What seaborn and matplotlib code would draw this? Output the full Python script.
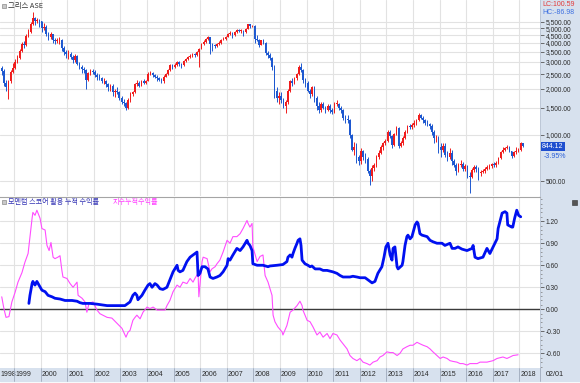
import numpy as np
import pandas as pd
import matplotlib
matplotlib.use("Agg")
import matplotlib.pyplot as plt
import matplotlib.ticker as mticker
from matplotlib.patches import Rectangle
from matplotlib.lines import Line2D
from matplotlib.transforms import blended_transform_factory
import seaborn as sns

sns.set_style("white")
plt.rcParams["font.family"] = ["Noto Sans CJK KR", "DejaVu Sans"]

# Greek ASE index, monthly candles Jul 1998 .. Feb 2018
ase_first_open = 2750
ase_close = [
    2620, 2200, 2050, 2250, 2580, 2740,                                  # 1998 H2
    3000, 3200, 3550, 3950, 3850, 4450, 4700, 5300, 5800, 5600, 5650, 5535,  # 1999
    5000, 5100, 4600, 4350, 4550, 4150, 4100, 4150, 4200, 3700, 3500, 3390,  # 2000
    3400, 3250, 3100, 3300, 2900, 2800, 2700, 2650, 2300, 2550, 2600, 2590,  # 2001
    2450, 2400, 2350, 2250, 2250, 2150, 2050, 2100, 1900, 1950, 1900, 1750,  # 2002
    1650, 1620, 1500, 1700, 1850, 1900, 2150, 2200, 2100, 2250, 2200, 2260,  # 2003
    2500, 2550, 2450, 2400, 2350, 2300, 2250, 2400, 2500, 2650, 2850, 2790,  # 2004
    2850, 3000, 2900, 2850, 3050, 3150, 3250, 3300, 3400, 3350, 3500, 3660,  # 2005
    3950, 4050, 4250, 4350, 3950, 3850, 3800, 3950, 4000, 4200, 4250, 4390,  # 2006
    4600, 4650, 4500, 4700, 4850, 4800, 4800, 4700, 4950, 5300, 5150, 5180,  # 2007
    4250, 4200, 3900, 4150, 4000, 3450, 3350, 3200, 2800, 1950, 1750, 1790,  # 2008
    1700, 1550, 1650, 1950, 2250, 2200, 2350, 2500, 2800, 2650, 2300, 2200,  # 2009
    1950, 1850, 2050, 1750, 1550, 1450, 1600, 1500, 1450, 1550, 1450, 1410,  # 2010
    1600, 1600, 1500, 1450, 1300, 1280, 1250, 1000, 800, 830, 720, 680,      # 2011
    780, 720, 700, 580, 540, 610, 640, 720, 760, 830, 880, 910,              # 2012
    1050, 980, 860, 1010, 1110, 850, 880, 960, 1050, 1140, 1120, 1160,       # 2013
    1200, 1250, 1350, 1300, 1250, 1200, 1180, 1150, 1050, 950, 950, 830,     # 2014
    800, 850, 740, 720, 760, 680, 640, 580, 640, 650, 600, 630,              # 2015
    540, 530, 590, 620, 600, 560, 570, 580, 600, 620, 630, 644,              # 2016
    640, 660, 710, 770, 800, 820, 840, 780, 730, 770, 790, 800,              # 2017
    880, 844.12,                                                             # 2018
]
ase_high = [
    2830, 2680, 2300, 2300, 2650, 2950,
    3150, 3350, 3650, 4050, 4100, 4550, 4900, 5450, 6350, 5900, 5800, 5750,
    5600, 5400, 5200, 4700, 4700, 4600, 4300, 4300, 4350, 4250, 3800, 3600,
    3600, 3500, 3350, 3400, 3350, 3000, 2850, 2800, 2700, 2600, 2700, 2700,
    2650, 2550, 2500, 2400, 2350, 2300, 2200, 2150, 2150, 2000, 2050, 1950,
    1800, 1720, 1650, 1750, 1900, 1950, 2200, 2280, 2250, 2300, 2320, 2300,
    2600, 2620, 2600, 2500, 2450, 2400, 2350, 2450, 2550, 2700, 2900, 2900,
    2950, 3050, 3050, 2950, 3100, 3200, 3300, 3400, 3450, 3450, 3550, 3700,
    4000, 4150, 4300, 4450, 4400, 4000, 3950, 4000, 4100, 4250, 4350, 4450,
    4650, 4750, 4700, 4750, 4900, 4950, 4950, 4850, 5000, 5350, 5350, 5250,
    5200, 4500, 4250, 4200, 4250, 4050, 3550, 3450, 3250, 2850, 2050, 1900,
    1900, 1750, 1700, 2000, 2300, 2350, 2400, 2550, 2850, 2950, 2700, 2350,
    2250, 2000, 2100, 2100, 1800, 1650, 1650, 1650, 1550, 1600, 1600, 1500,
    1650, 1700, 1620, 1550, 1480, 1350, 1350, 1270, 1020, 900, 880, 740,
    820, 800, 760, 720, 600, 640, 660, 740, 800, 860, 900, 940,
    1080, 1080, 1000, 1030, 1150, 1120, 910, 990, 1070, 1160, 1180, 1190,
    1250, 1280, 1390, 1370, 1330, 1280, 1250, 1200, 1180, 1080, 1000, 980,
    880, 880, 880, 780, 820, 800, 700, 660, 660, 690, 670, 650,
    640, 570, 610, 640, 640, 620, 590, 600, 620, 640, 650, 660,
    670, 680, 720, 790, 830, 840, 860, 850, 790, 790, 830, 820,
    900, 890,
]
ase_low = [
    2450, 2100, 1950, 1720, 2200, 2550,
    2700, 2950, 3150, 3500, 3700, 3800, 4350, 4650, 5250, 5250, 5400, 5100,
    4700, 4850, 4450, 4200, 4250, 4000, 3950, 4000, 3950, 3550, 3350, 3200,
    3150, 3150, 2950, 3000, 2850, 2700, 2550, 2550, 2000, 2250, 2450, 2500,
    2400, 2300, 2300, 2200, 2150, 2050, 1950, 1950, 1800, 1780, 1850, 1700,
    1600, 1550, 1450, 1480, 1650, 1800, 1880, 2100, 2050, 2080, 2150, 2150,
    2250, 2450, 2380, 2350, 2250, 2250, 2200, 2200, 2380, 2480, 2620, 2700,
    2750, 2820, 2820, 2750, 2820, 3000, 3100, 3200, 3250, 3250, 3300, 2800,
    3650, 3900, 4000, 4200, 3400, 3550, 3700, 3750, 3900, 3950, 4150, 4200,
    4350, 4500, 4300, 4450, 4650, 4700, 4650, 4450, 4650, 4900, 5000, 5050,
    4000, 4100, 3750, 3850, 3950, 3350, 3200, 3100, 2650, 1750, 1650, 1600,
    1620, 1500, 1400, 1600, 1900, 2100, 2150, 2300, 2450, 2600, 2200, 2050,
    1900, 1750, 1800, 1650, 1450, 1400, 1420, 1480, 1400, 1430, 1400, 1380,
    1400, 1550, 1450, 1400, 1250, 1200, 1200, 950, 780, 740, 660, 640,
    650, 690, 660, 560, 470, 500, 580, 620, 700, 750, 800, 860,
    900, 950, 820, 850, 1000, 820, 830, 860, 940, 1030, 1090, 1100,
    1130, 1170, 1230, 1270, 1200, 1170, 1150, 1100, 1000, 880, 900, 760,
    720, 770, 720, 680, 700, 640, 620, 550, 570, 620, 580, 580,
    520, 420, 520, 570, 570, 510, 540, 560, 560, 590, 600, 610,
    620, 620, 650, 700, 760, 790, 810, 770, 710, 720, 750, 770,
    790, 830,
]

# index cumulative return (pink) and momentum-score cumulative return (blue)
idx_years = [
    1998.54, 1998.62, 1998.70, 1998.81, 1998.92, 1999.04, 1999.15, 1999.30, 1999.41, 1999.53,
    1999.68, 1999.71, 1999.79, 1999.86, 1999.98, 2000.05, 2000.17, 2000.24, 2000.32, 2000.39,
    2000.47, 2000.54, 2000.65, 2000.73, 2000.80, 2000.84, 2000.99, 2001.11, 2001.22, 2001.37,
    2001.41, 2001.56, 2001.67, 2001.74, 2001.82, 2001.97, 2002.12, 2002.23, 2002.50, 2002.68,
    2002.87, 2003.06, 2003.21, 2003.29, 2003.36, 2003.47, 2003.55, 2003.62, 2003.74, 2003.85,
    2004.00, 2004.11, 2004.23, 2004.38, 2004.56, 2004.68, 2004.75, 2004.86, 2004.98, 2005.13,
    2005.24, 2005.35, 2005.50, 2005.62, 2005.73, 2005.80, 2005.92, 2005.95, 2006.07, 2006.11,
    2006.26, 2006.37, 2006.44, 2006.56, 2006.63, 2006.74, 2006.86, 2007.01, 2007.12, 2007.23,
    2007.38, 2007.50, 2007.61, 2007.76, 2007.80, 2007.87, 2007.95, 2007.98, 2008.14, 2008.25,
    2008.36, 2008.44, 2008.55, 2008.70, 2008.74, 2008.81, 2008.92, 2009.08, 2009.11, 2009.26,
    2009.38, 2009.49, 2009.64, 2009.75, 2009.83, 2009.86, 2010.02, 2010.13, 2010.24, 2010.39,
    2010.50, 2010.62, 2010.77, 2010.88, 2010.99, 2011.14, 2011.26, 2011.37, 2011.52, 2011.63,
    2011.74, 2011.89, 2012.01, 2012.12, 2012.27, 2012.38, 2012.50, 2012.65, 2012.76, 2012.87,
    2013.02, 2013.14, 2013.25, 2013.40, 2013.51, 2013.62, 2013.77, 2013.89, 2014.00, 2014.15,
    2014.26, 2014.38, 2014.53, 2014.64, 2014.75, 2014.90, 2015.02, 2015.13, 2015.28, 2015.39,
    2015.50, 2015.65, 2015.77, 2015.88, 2016.03, 2016.14, 2016.26, 2016.41, 2016.52, 2016.63,
    2016.78, 2016.89, 2017.01, 2017.16, 2017.27, 2017.38, 2017.53, 2017.65, 2017.76, 2017.95,
]
idx_ret = [
    0.17, 0.01, -0.11, -0.10, 0.10, 0.23, 0.37, 0.50, 0.64, 0.76,
    1.24, 1.32, 1.28, 1.35, 1.24, 1.10, 1.08, 0.87, 0.80, 0.91,
    0.71, 0.69, 0.71, 0.73, 0.53, 0.44, 0.42, 0.35, 0.30, 0.37,
    0.19, 0.15, 0.10, -0.04, 0.08, 0.10, -0.01, -0.06, -0.11, -0.12,
    -0.19, -0.26, -0.38, -0.31, -0.29, -0.15, -0.11, -0.08, -0.13, -0.04,
    0.03, 0.01, 0.03, -0.01, -0.01, -0.01, 0.05, 0.12, 0.24, 0.33,
    0.30, 0.37, 0.35, 0.42, 0.37, 0.42, 0.49, 0.17, 0.65, 0.71,
    0.69, 0.51, 0.55, 0.58, 0.62, 0.67, 0.78, 0.94, 0.90, 0.99,
    0.99, 1.03, 1.10, 1.21, 1.17, 1.12, 1.17, 0.85, 0.65, 0.72,
    0.74, 0.46, 0.37, 0.19, -0.08, -0.17, -0.24, -0.31, -0.35, -0.22,
    -0.04, -0.01, 0.05, 0.11, 0.05, -0.01, -0.15, -0.17, -0.24, -0.35,
    -0.31, -0.38, -0.33, -0.40, -0.33, -0.35, -0.42, -0.47, -0.54, -0.63,
    -0.67, -0.70, -0.67, -0.72, -0.74, -0.76, -0.72, -0.70, -0.65, -0.63,
    -0.58, -0.59, -0.59, -0.63, -0.60, -0.54, -0.51, -0.49, -0.49, -0.45,
    -0.47, -0.49, -0.51, -0.54, -0.58, -0.63, -0.67, -0.65, -0.67, -0.70,
    -0.71, -0.72, -0.74, -0.74, -0.76, -0.74, -0.74, -0.74, -0.72, -0.72,
    -0.72, -0.71, -0.70, -0.67, -0.66, -0.65, -0.67, -0.65, -0.63, -0.62,
]
mom_years = [
    1999.56, 1999.60, 1999.68, 1999.71, 1999.79, 1999.86, 1999.94, 2000.05, 2000.17, 2000.28,
    2000.43, 2000.54, 2000.73, 2000.92, 2001.18, 2001.37, 2001.48, 2001.59, 2001.86, 2002.12,
    2002.50, 2002.87, 2003.17, 2003.36, 2003.47, 2003.55, 2003.62, 2003.66, 2003.81, 2003.92,
    2004.04, 2004.11, 2004.19, 2004.30, 2004.38, 2004.49, 2004.60, 2004.75, 2004.86, 2004.98,
    2005.13, 2005.17, 2005.24, 2005.35, 2005.50, 2005.62, 2005.73, 2005.80, 2005.88, 2005.92,
    2005.99, 2006.07, 2006.18, 2006.29, 2006.37, 2006.48, 2006.63, 2006.74, 2006.86, 2007.01,
    2007.05, 2007.12, 2007.23, 2007.38, 2007.50, 2007.61, 2007.76, 2007.80, 2007.87, 2007.95,
    2007.98, 2008.14, 2008.36, 2008.55, 2008.62, 2008.89, 2009.11, 2009.26, 2009.30, 2009.38,
    2009.45, 2009.49, 2009.56, 2009.64, 2009.68, 2009.75, 2009.79, 2009.83, 2009.94, 2010.05,
    2010.13, 2010.20, 2010.32, 2010.50, 2010.62, 2010.77, 2010.88, 2010.99, 2011.14, 2011.26,
    2011.37, 2011.63, 2011.74, 2011.89, 2012.01, 2012.20, 2012.31, 2012.46, 2012.57, 2012.68,
    2012.83, 2012.91, 2012.98, 2013.06, 2013.14, 2013.21, 2013.25, 2013.32, 2013.40, 2013.44,
    2013.59, 2013.62, 2013.70, 2013.77, 2013.81, 2013.89, 2013.96, 2014.08, 2014.15, 2014.19,
    2014.26, 2014.34, 2014.53, 2014.64, 2014.75, 2014.90, 2015.09, 2015.20, 2015.39, 2015.47,
    2015.58, 2015.69, 2015.84, 2016.03, 2016.22, 2016.26, 2016.33, 2016.44, 2016.63, 2016.78,
    2016.89, 2017.01, 2017.16, 2017.20, 2017.35, 2017.46, 2017.53, 2017.56, 2017.71, 2017.75,
    2017.82, 2017.90, 2017.97, 2018.05,
]
mom_ret = [
    0.08, 0.19, 0.35, 0.38, 0.33, 0.38, 0.33, 0.26, 0.24, 0.19,
    0.17, 0.15, 0.14, 0.12, 0.12, 0.11, 0.09, 0.08, 0.08, 0.07,
    0.05, 0.05, 0.05, 0.10, 0.19, 0.22, 0.19, 0.13, 0.19, 0.26,
    0.33, 0.35, 0.30, 0.35, 0.33, 0.28, 0.27, 0.30, 0.40, 0.51,
    0.60, 0.53, 0.51, 0.53, 0.65, 0.71, 0.74, 0.76, 0.78, 0.46,
    0.49, 0.58, 0.58, 0.55, 0.44, 0.42, 0.44, 0.46, 0.51, 0.60,
    0.69, 0.67, 0.74, 0.83, 0.80, 0.85, 0.94, 0.90, 0.87, 0.80,
    0.62, 0.60, 0.60, 0.58, 0.59, 0.60, 0.61, 0.65, 0.71, 0.74,
    0.71, 0.76, 0.83, 0.90, 0.94, 0.96, 0.87, 0.67, 0.62, 0.60,
    0.58, 0.59, 0.55, 0.55, 0.53, 0.53, 0.52, 0.51, 0.49, 0.46,
    0.44, 0.44, 0.45, 0.44, 0.43, 0.43, 0.40, 0.36, 0.38, 0.49,
    0.58, 0.71, 0.85, 0.90, 0.74, 0.67, 0.83, 0.85, 0.58, 0.55,
    0.60, 0.65, 0.87, 0.99, 1.01, 0.96, 0.99, 1.15, 1.19, 1.17,
    1.03, 1.01, 0.99, 0.94, 0.92, 0.90, 0.90, 0.87, 0.90, 0.83,
    0.83, 0.85, 0.82, 0.80, 0.83, 0.87, 0.71, 0.69, 0.71, 0.83,
    0.76, 0.85, 0.96, 1.10, 1.31, 1.33, 1.31, 1.15, 1.12, 1.12,
    1.24, 1.35, 1.28, 1.26,
]

year_labels = list(range(1998, 2019))
price_ticks = [500, 1000, 1500, 2000, 2500, 3000, 3500, 4000, 4500, 5000, 5500]
ret_ticks = [-0.6, -0.3, 0.0, 0.3, 0.6, 0.9, 1.2]
title_text = "그리스 ASE"
mom_label = "모멘텀 스코어 활용 누적 수익률"
idx_label = "지수누적수익률"

months = pd.date_range("1998-07-01", periods=len(ase_close), freq="MS")
candles = pd.DataFrame({
    "t": months.year + (months.month - 0.5) / 12,
    "close": ase_close,
    "high": ase_high,
    "low": ase_low,
})
candles["open"] = [ase_first_open] + ase_close[:-1]
candles["up"] = candles["close"] >= candles["open"]
idx_df = pd.DataFrame({"t": idx_years, "v": idx_ret})
mom_df = pd.DataFrame({"t": mom_years, "v": mom_ret})

RED, BLUE = "#f01c1c", "#1d58d0"
STRIP = "#d7e1ee"
GRID = "#e2e2e2"
NARROW = ["Liberation Sans Narrow", "Liberation Sans", "DejaVu Sans"]

W, H = 580, 383
fig = plt.figure(figsize=(W / 100, H / 100), dpi=100)
fig.patch.set_facecolor("white")


def box(x0, y0, x1, y1):
    return [x0 / W, 1 - y1 / H, (x1 - x0) / W, (y1 - y0) / H]


# background strips (below the axes so tick labels stay visible)
fig.patches.append(Rectangle((540 / W, 1 - 368 / H), 40 / W, 368 / H,
                             transform=fig.transFigure, color=STRIP, zorder=-2))
fig.patches.append(Rectangle((0, 1 - 381 / H), 1, 13 / H,
                             transform=fig.transFigure, color=STRIP, zorder=-2))

ax1 = fig.add_axes(box(0, 0, 540, 196))
ax2 = fig.add_axes(box(0, 197, 540, 368), sharex=ax1)
xlim = (1998.474, 2018.774)

# --- price panel (log scale candles)
colors = np.where(candles["up"], RED, BLUE)
body_lo = np.minimum(candles["open"], candles["close"])
body_h = np.maximum(np.abs(candles["close"] - candles["open"]), candles["close"] * 0.006)
ax1.vlines(candles["t"], candles["low"], candles["high"], colors=colors, lw=0.7, zorder=3)
ax1.bar(candles["t"], body_h, bottom=body_lo, width=0.06, color=colors, linewidth=0, zorder=3)
ax1.set_yscale("log")
ax1.set_ylim(399, 7630)
ax1.yaxis.set_major_locator(mticker.FixedLocator(price_ticks))
ax1.yaxis.set_minor_locator(mticker.NullLocator())
ax1.yaxis.set_major_formatter(mticker.FuncFormatter(lambda v, p: f"{v:,.2f}"))

# --- return panel
sns.lineplot(data=idx_df, x="t", y="v", ax=ax2, color="#ff4cff", lw=0.8,
             estimator=None, sort=False, zorder=3)
sns.lineplot(data=mom_df, x="t", y="v", ax=ax2, color="#0010f0", lw=2.0,
             estimator=None, sort=False, zorder=4)
ax2.axhline(0, color="#3a3a3a", lw=1.0, zorder=2)
ax2.set_ylim(-0.80, 1.53)
ax2.set_yticks(ret_ticks)
ax2.yaxis.set_minor_locator(mticker.MultipleLocator(0.06))
ax2.yaxis.set_major_formatter(mticker.FuncFormatter(lambda v, p: f"{v:.2f}"))

for ax in (ax1, ax2):
    # ticks first: set_xticks would otherwise widen the view to include 1998
    ax.xaxis.set_major_locator(mticker.FixedLocator(year_labels))
    ax.set_xlim(*xlim)
    ax.set_xlabel("")
    ax.set_ylabel("")
    ax.set_facecolor("white")
    ax.grid(True, color=GRID, lw=0.8)
    ax.set_axisbelow(True)
    ax.yaxis.tick_right()
    ax.tick_params(axis="x", length=0, labelbottom=False)
    ax.tick_params(axis="y", which="major", direction="out", length=3, width=0.6,
                   color="#555555", labelsize=4.8, labelcolor="#2a2a2a", pad=1.2)
    ax.tick_params(axis="y", which="minor", direction="out", length=1.2, width=0.5,
                   color="#777777")
    for s in ("left", "bottom", "top"):
        ax.spines[s].set_visible(False)
    ax.spines["right"].set_color("#b9c3d2")
    ax.spines["right"].set_linewidth(0.6)
    for lbl in ax.get_yticklabels():
        lbl.set_family(NARROW)
ax2.spines["top"].set_visible(True)
ax2.spines["top"].set_color("#a5a5a5")
ax2.spines["top"].set_linewidth(0.8)


# --- titles / legend text
def px_text(x, y, s, **kw):
    fig.text(x / W, 1 - y / H, s, va="center", **kw)


fig.patches.append(Rectangle((2 / W, 1 - 8 / H), 4 / W, 4 / H, transform=fig.transFigure,
                             facecolor="#c8c8c8", edgecolor="#777777", lw=0.4, zorder=5))
px_text(8, 6, title_text, fontsize=5.3, color="#333333")
fig.patches.append(Rectangle((2 / W, 1 - 204 / H), 4 / W, 4 / H, transform=fig.transFigure,
                             facecolor="#c8c8c8", edgecolor="#777777", lw=0.4, zorder=5))
px_text(8, 202, mom_label, fontsize=5.1, color="#3535b5")
px_text(113, 202, idx_label, fontsize=5.1, color="#ff3cff")
px_text(542, 5, "LC:100.59", fontsize=5, color="#e23a3a", family=NARROW)
px_text(542, 13, "HC:-86.98", fontsize=5, color="#3a6ee0", family=NARROW)
fig.patches.append(Rectangle((572 / W, 1 - 205 / H), 5 / W, 5 / H, transform=fig.transFigure,
                             facecolor="#555555", edgecolor="#333333", lw=0.4, zorder=5))

# last price box on the right strip
last_close = ase_close[-1]
blend_y = blended_transform_factory(fig.transFigure, ax1.transData)
fig.text(542 / W, last_close, f"{last_close:,.2f}", transform=blend_y, fontsize=5,
         color="white", va="center", ha="left", family=NARROW, zorder=6,
         bbox=dict(boxstyle="square,pad=0.15", fc="#1f4fcf", ec="none"))
px_text(544, 156, "-3.95%", fontsize=5, color="#2a5fd8", family=NARROW)

# date strip labels and separators
blend_x = blended_transform_factory(ax2.transData, fig.transFigure)
for yr in year_labels:
    if yr > xlim[0]:
        fig.add_artist(Line2D([yr, yr], [1 - 381 / H, 1 - 368 / H], transform=blend_x,
                              color="#9eaabb", lw=0.6))
        x, dx = yr, 0.04
    else:
        x, dx = xlim[0], 0.0
    ax2.text(x + dx, 1 - 375 / H, str(yr), transform=blend_x, fontsize=5.0,
             color="#2a2a2a", va="center", ha="left", family=NARROW, clip_on=False)
fig.add_artist(Line2D([540 / W, 540 / W], [1 - 381 / H, 1 - 368 / H],
                      transform=fig.transFigure, color="#9eaabb", lw=0.6))
px_text(546, 375, "02/01", fontsize=5.2, color="#2a2a2a", family=NARROW)

fig.savefig("out.png", dpi=100, facecolor="white")
